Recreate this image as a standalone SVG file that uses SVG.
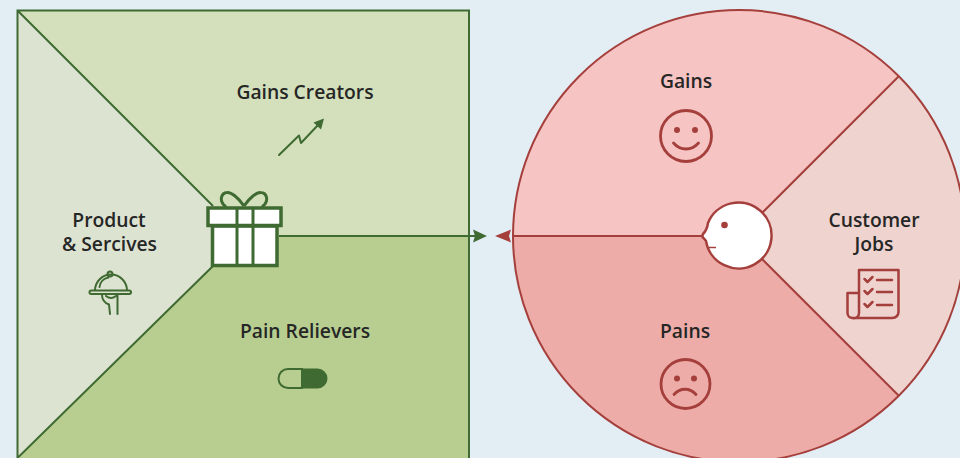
<svg xmlns="http://www.w3.org/2000/svg" width="960" height="458" viewBox="0 0 960 458">
<style>
text{font-family:"Open Sans","Liberation Sans",sans-serif;font-weight:600;font-size:19.300px;fill:#262626;text-anchor:middle}
.g{stroke:#3f6a32;fill:none;stroke-width:2;stroke-linecap:round;stroke-linejoin:round}
.r{stroke:#a53f3c;fill:none;stroke-width:2.500;stroke-linecap:round;stroke-linejoin:round}
.f{stroke:#a53f3c;fill:none;stroke-width:2.800;stroke-linecap:round;stroke-linejoin:round}
.gb{stroke:#3f6a32;stroke-width:2}
.rb{stroke:#a53f3c;stroke-width:2}
</style>
<rect width="960" height="458" fill="#e3edf4"/>
<g id="gains-creators">
<path d="M17.500 10.500H469V236H243Z" fill="#d3e0bb"/>
<text x="305" y="99">Gains Creators</text>
<path class="g" d="M279 155L299 135.500L301 143L319 124"/>
<path d="M324 118.500L321 129.500L313.500 122.500Z" fill="#3f6a32"/>
</g>
<g id="product-services">
<path d="M17.500 10.500L243 236L17.500 458Z" fill="#dde3d1"/>
<text><tspan x="109" y="227">Product</tspan><tspan x="109.500" y="251">&amp; Sercives</tspan></text>
<path class="g" d="M95 290.500a15.500 15.500 0 0 1 32 0M99.500 287a11 11 0 0 1 9 -9.500"/>
<circle cx="110" cy="274" r="2.500" fill="none" stroke="#3f6a32" stroke-width="2"/>
<rect x="89.500" y="290.500" width="41.500" height="3.500" rx="1.700" fill="#dde3d1" stroke="#3f6a32" stroke-width="2"/>
<path class="g" d="M102 295c0 5 3 8 7 9.500L110 314M117.500 295V314M106 296c3 2.500 7 2.500 10 0"/>
</g>
<g id="pain-relievers">
<path d="M243 236H469V458H17.500Z" fill="#b8ce91"/>
<text x="305" y="338">Pain Relievers</text>
<path d="M302 369H288a9.500 9.500 0 0 0 0 19H302Z" fill="#b8ce91" stroke="#3f6a32" stroke-width="2"/>
<path d="M302 368.500H317.500a10 10 0 0 1 0 20H302Z" fill="#3f6a32"/>
</g>
<g id="square-outline">
<path d="M469 236V10.500H17.500V458M469 236V458M17.500 10.500L213 206M17.500 458L213 266" fill="none" stroke="#3f6a32" stroke-width="2"/>
</g>
<g id="customer-circle">
<path d="M739 236L898.800 76.200A226 226 0 0 0 513 236Z" fill="#f5c4c3"/>
<path d="M739 236L898.800 76.200A226 226 0 0 1 898.800 395.800Z" fill="#eed3cf"/>
<path d="M739 236L513 236A226 226 0 0 0 898.800 395.800Z" fill="#edaca7"/>
<circle cx="739" cy="236" r="226" fill="none" stroke="#a53f3c" stroke-width="2"/>
<path d="M739 236L898.800 76.200M739 236L898.800 395.800" class="rb"/>
</g>
<g id="gains">
<text x="686" y="88">Gains</text>
<circle cx="686" cy="136" r="25.500" class="f"/>
<circle cx="677" cy="130" r="3" fill="#a53f3c"/>
<circle cx="695" cy="130" r="3" fill="#a53f3c"/>
<path class="f" d="M673.500 143c7 8 18 8 25 0"/>
</g>
<g id="customer-jobs">
<text><tspan x="874" y="227">Customer</tspan><tspan x="874" y="251">Jobs</tspan></text>
<path class="r" d="M859 270H898.500V312a6 6 0 0 1 -6 6H852.500a5 5 0 0 1 -5 -5V293H859V270ZM859 293V313a5 5 0 0 1 -6.500 5"/>
<path class="r" d="M864.500 279l3 3l5 -5M864.500 291l3 3l5 -5M864.500 304l3 3l5 -5M877 280H892M877 292H892M877 305H892"/>
</g>
<g id="pains">
<text x="685" y="338">Pains</text>
<circle cx="685.500" cy="384" r="24.500" class="f"/>
<circle cx="677" cy="378.500" r="3" fill="#a53f3c"/>
<circle cx="694" cy="378.500" r="3" fill="#a53f3c"/>
<path class="f" d="M674 394.500c6 -7 16 -7 22 0"/>
</g>
<g id="connectors">
<path d="M279 236H477" class="gb" fill="none"/>
<path d="M487 236L473 229.500L475 236L473 242.500Z" fill="#3f6a32"/>
<path d="M513 236H703" class="rb" fill="none"/>
<path d="M495 236L511 229.500L509 236L511 242.500Z" fill="#a53f3c"/>
</g>
<g id="gift">
<path d="M244 206C238 197 231 192 227 192.500C221 193 220 200 223 204L226 207M244 206C250 197 257 192 261 192.500C267 193 268 200 265 204L262 207" fill="none" stroke="#3f6a32" stroke-width="3"/>
<rect x="212.500" y="226" width="64.500" height="39.500" fill="#fff" stroke="#3f6a32" stroke-width="3.500"/>
<rect x="208" y="208" width="73" height="17.500" fill="#fff" stroke="#3f6a32" stroke-width="3.500"/>
<path d="M237 207V265M253 207V265" stroke="#3f6a32" stroke-width="3" fill="none"/>
</g>
<g id="head">
<path d="M708 223A33 33 0 1 1 706 241L704 238.500Q701.500 237 703 234Q707 230 708 223Z" fill="#fff" stroke="#a53f3c" stroke-width="2.500"/>
<circle cx="724.500" cy="225" r="3.300" fill="#a53f3c"/>
<path d="M708.500 247.500H716" stroke="#a53f3c" stroke-width="1.500" fill="none"/>
</g>
</svg>
